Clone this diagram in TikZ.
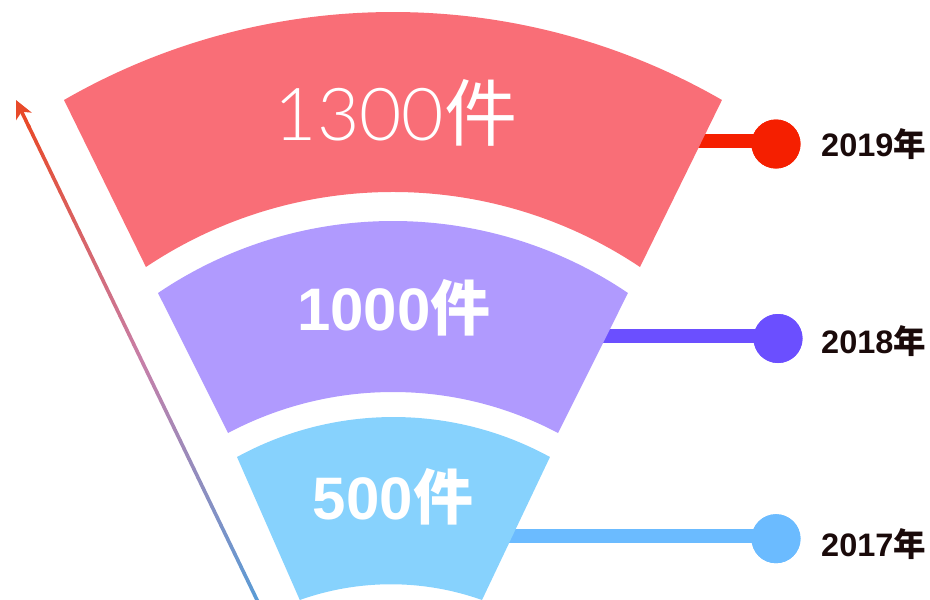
\documentclass[tikz,border=0pt]{standalone}
\usepackage{fontspec}
\setmainfont{Liberation Sans}
\newfontfamily\cjk{Noto Sans CJK SC}
\newfontfamily\lightfont{Lato Light}
\usetikzlibrary{calc,arrows.meta}
\definecolor{segA}{HTML}{F96E77}
\definecolor{segB}{HTML}{B09AFE}
\definecolor{segC}{HTML}{87D2FD}
\definecolor{dotA}{HTML}{F51F00}
\definecolor{dotB}{HTML}{6B4FFF}
\definecolor{dotC}{HTML}{6BBBFF}
\definecolor{yeartext}{HTML}{1A0A0A}
\definecolor{arrTop}{HTML}{E84A2A}
\definecolor{arrMid}{HTML}{C77FA8}
\definecolor{arrBot}{HTML}{5B9BD5}
\tikzset{
  dotnode/.style={circle, inner sep=0pt, minimum size=49pt},
  linkline/.style={line width=14pt},
  numlabel/.style={text=white, inner sep=0pt, anchor=base},
  yearlabel/.style={text=yeartext, inner sep=0pt, anchor=base west, font=\fontsize{32.5}{36}\selectfont\bfseries},
  axisline/.style={line width=3.6pt, line cap=round},
}
\begin{document}
\begin{tikzpicture}[x=1pt,y=-1pt]
\useasboundingbox (0,0) rectangle (930,600);

% connector start points (behind segments)
\coordinate (s1) at (660,140.5);
\coordinate (s2) at (580,336);
\coordinate (s3) at (490,536.3);
\node[dotnode, fill=dotA] (d1) at (776,144) {};
\node[dotnode, fill=dotB] (d2) at (778,338.5) {};
\node[dotnode, fill=dotC] (d3) at (776,538.7) {};
\draw[linkline, dotA] (s1) -- (s1 -| d1.center);
\draw[linkline, dotB] (s2) -- (s2 -| d2.center);
\draw[linkline, dotC] (s3) -- (s3 -| d3.center);
\node[dotnode, fill=dotA] at (d1) {};
\node[dotnode, fill=dotB] at (d2) {};
\node[dotnode, fill=dotC] at (d3) {};

% funnel segments
\fill[segA] (64,100) arc[start angle=-119.95, end angle=-60.05, radius=659]
  -- (640,267) arc[start angle=-56.21, end angle=-123.79, radius=444.2] -- cycle;
\fill[segB] (158,293) arc[start angle=-124.07, end angle=-55.93, radius=419.5]
  -- (558,433) arc[start angle=-62.09, end angle=-117.91, radius=352.5] -- cycle;
\fill[segC] (237,457) arc[start angle=-118.67, end angle=-61.33, radius=326.2]
  -- (482,600) arc[start angle=-70.4, end angle=-109.6, radius=271.6] -- cycle;

% value labels
\node[numlabel, font=\fontsize{73}{80}\selectfont] (n1) at (396,140) {\lightfont 1300{\cjk 件}};
\node[numlabel, font=\fontsize{60}{66}\selectfont\bfseries] (n2) at (394,330) {1000{\cjk 件}};
\node[numlabel, font=\fontsize{60}{66}\selectfont\bfseries] (n3) at (393,519) {500{\cjk 件}};

% year labels
\node[yearlabel] (y1) at (821,156.7) {2019{\cjk 年}};
\node[yearlabel] (y2) at (821,353) {2018{\cjk 年}};
\node[yearlabel] (y3) at (821,556.7) {2017{\cjk 年}};

% gradient axis arrow
\coordinate (A) at (258,602);
\coordinate (B) at (16,100);
\foreach \i in {0,...,24}{
  \pgfmathtruncatemacro\p{100-4*\i}
  \draw[axisline, color=arrBot!\p!arrMid]
    ($(A)!{\i/50*0.95}!(B)$) -- ($(A)!{(\i+1)/50*0.95}!(B)$);
}
\foreach \i in {25,...,49}{
  \pgfmathtruncatemacro\p{100-4*(\i-25)}
  \draw[axisline, color=arrMid!\p!arrTop]
    ($(A)!{\i/50*0.95}!(B)$) -- ($(A)!{(\i+1)/50*0.95}!(B)$);
}
\draw[line width=3.6pt, arrTop, -{Stealth[length=18pt,width=17pt,inset=5pt]}] ($(A)!0.945!(B)$) -- (B);
\end{tikzpicture}
\end{document}
